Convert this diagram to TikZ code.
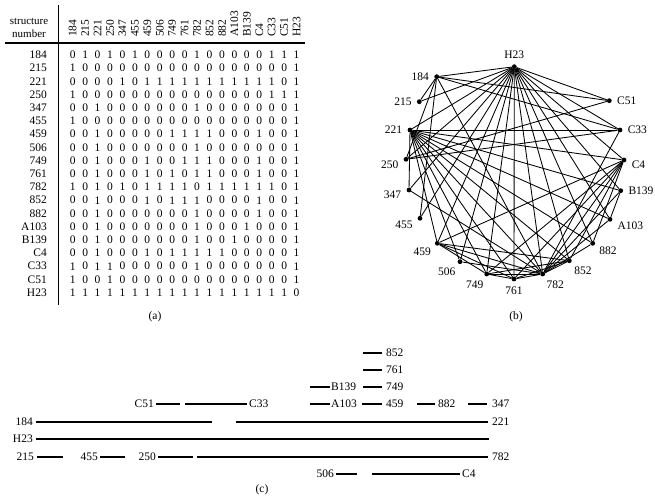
\documentclass[tikz,border=0pt]{standalone}
\usepackage{fontspec}
\setmainfont{Liberation Serif}
\begin{document}
\begin{tikzpicture}[x=1pt,y=-1pt,
  font=\fontsize{11.5}{13}\selectfont,
  colhead/.style={rotate=90,anchor=west,inner sep=0pt},
  rowlab/.style={anchor=east,inner sep=0pt},
  cell/.style={inner sep=0pt},
  rule/.style={line width=1.2pt},
  dot/.style={circle,fill=black,inner sep=0pt,minimum size=4.8pt},
  edge/.style={line width=0.85pt},
  seg/.style={line width=2pt},
  tag/.style={inner sep=0pt}]
\useasboundingbox (0,0) rectangle (655,498);

% ---------- (a) adjacency matrix ----------
\node[align=center,font=\fontsize{11}{13}\selectfont,inner sep=0pt] (hdr) at (29,28)
  {structure\\number};
\foreach \lab [count=\j from 0] in {184,215,221,250,347,455,459,506,749,761,782,852,882,A103,B139,C4,C33,C51,H23}
  \node[colhead] (h-\j) at ({72.7+12.44*\j},37) {\lab};
\foreach \lab/\vals [count=\i from 0] in {
  184/{0,1,0,1,0,1,0,0,0,0,1,0,0,0,0,0,1,1,1},
  215/{1,0,0,0,0,0,0,0,0,0,0,0,0,0,0,0,0,0,1},
  221/{0,0,0,0,1,0,1,1,1,1,1,1,1,1,1,1,1,0,1},
  250/{1,0,0,0,0,0,0,0,0,0,0,0,0,0,0,0,1,1,1},
  347/{0,0,1,0,0,0,0,0,0,0,1,0,0,0,0,0,0,0,1},
  455/{1,0,0,0,0,0,0,0,0,0,0,0,0,0,0,0,0,0,1},
  459/{0,0,1,0,0,0,0,0,1,1,1,1,0,0,0,1,0,0,1},
  506/{0,0,1,0,0,0,0,0,0,0,1,0,0,0,0,0,0,0,1},
  749/{0,0,1,0,0,0,1,0,0,1,1,1,0,0,0,1,0,0,1},
  761/{0,0,1,0,0,0,1,0,1,0,1,1,0,0,0,1,0,0,1},
  782/{1,0,1,0,1,0,1,1,1,1,0,1,1,1,1,1,1,0,1},
  852/{0,0,1,0,0,0,1,0,1,1,1,0,0,0,0,1,0,0,1},
  882/{0,0,1,0,0,0,0,0,0,0,1,0,0,0,0,1,0,0,1},
  A103/{0,0,1,0,0,0,0,0,0,0,1,0,0,0,1,0,0,0,1},
  B139/{0,0,1,0,0,0,0,0,0,0,1,0,0,1,0,0,0,0,1},
  C4/{0,0,1,0,0,0,1,0,1,1,1,1,1,0,0,0,0,0,1},
  C33/{1,0,1,1,0,0,0,0,0,0,1,0,0,0,0,0,0,0,1},
  C51/{1,0,0,1,0,0,0,0,0,0,0,0,0,0,0,0,0,0,1},
  H23/{1,1,1,1,1,1,1,1,1,1,1,1,1,1,1,1,1,1,0}} {
  \node[rowlab] (r-\i) at (47,{55+13.2*\i}) {\lab};
  \foreach \v [count=\j from 0] in \vals
    \node[cell] (c-\i-\j) at ({72.7+12.44*\j},{55+13.2*\i}) {\v};
}
\draw[rule] (5,43) -- (305,43);
\draw[rule] (58.5,5) -- (58.5,305);
\node[tag] (capa) at (155,317) {(a)};

% ---------- (b) graph ----------
\foreach \n/\px/\py/\ang in {
  H23/514.3/66.7/90, 184/436.7/76.7/180, 215/419.3/101.7/180,
  221/410/130/180, 250/406/159.3/190, 347/409/190/185,
  455/420/218.3/200, 459/437.3/243.3/215, 506/460/261.7/235,
  749/486.7/274/245, 761/514/279/270, 782/542.7/274/300,
  852/569.3/260.7/310, 882/592.7/243.3/330, A103/610/219.3/345,
  B139/620.7/190.7/0, C4/624/160/355, C33/620/130/0, C51/609.3/100.7/0}
  \node[dot,label={[inner sep=0pt,label distance=5pt]\ang:\n}] (g\n) at (\px,\py) {};
\foreach \a/\b in {
  184/215,184/250,184/455,184/782,184/C33,184/C51,184/H23,
  215/H23,
  221/347,221/459,221/506,221/749,221/761,221/782,221/852,221/882,
  221/A103,221/B139,221/C4,221/C33,221/H23,
  250/C33,250/C51,250/H23,
  347/782,347/H23,
  455/H23,
  459/749,459/761,459/782,459/852,459/C4,459/H23,
  506/782,506/H23,
  749/761,749/782,749/852,749/C4,749/H23,
  761/782,761/852,761/C4,761/H23,
  782/852,782/882,782/A103,782/B139,782/C4,782/C33,782/H23,
  852/C4,852/H23,
  882/C4,882/H23,
  A103/B139,A103/H23,
  B139/H23,C4/H23,C33/H23,C51/H23}
  \draw[edge] (g\a) -- (g\b);
\node[tag] (capb) at (516,317) {(b)};

% ---------- (c) interval representation ----------
% top stack
\draw[seg] (363,353) -- (382,353);
\node[tag,anchor=west] (i852) at (386,353) {852};
\draw[seg] (363,370) -- (382,370);
\node[tag,anchor=west] (i761) at (386,370) {761};
\draw[seg] (310,387) -- (330,387);
\node[tag,anchor=west] (iB139) at (331,387) {B139};
\draw[seg] (363,387) -- (382,387);
\node[tag,anchor=west] (i749) at (386,387) {749};
% row with C51, C33, A103, 459, 882, 347
\node[tag,anchor=east] (iC51) at (154,404) {C51};
\draw[seg] (156,404) -- (180,404);
\draw[seg] (185,404) -- (247,404);
\node[tag,anchor=west] (iC33) at (249,404) {C33};
\draw[seg] (310,404) -- (330,404);
\node[tag,anchor=west] (iA103) at (331,404) {A103};
\draw[seg] (362,404) -- (382,404);
\node[tag,anchor=west] (i459) at (386,404) {459};
\draw[seg] (417,404) -- (435,404);
\node[tag,anchor=west] (i882) at (438,404) {882};
\draw[seg] (468,404) -- (487,404);
\node[tag,anchor=west] (i347) at (492,404) {347};
% 184 / 221
\node[tag,anchor=east] (i184) at (33,422) {184};
\draw[seg] (36,422) -- (212,422);
\draw[seg] (236,422) -- (488,422);
\node[tag,anchor=west] (i221) at (492,422) {221};
% H23
\node[tag,anchor=east] (iH23) at (33,439) {H23};
\draw[seg] (36,439) -- (489,439);
% 215, 455, 250, 782
\node[tag,anchor=east] (i215) at (34,457) {215};
\draw[seg] (37,457) -- (63,457);
\node[tag,anchor=east] (i455) at (98,457) {455};
\draw[seg] (100,457) -- (125,457);
\node[tag,anchor=east] (i250) at (156,457) {250};
\draw[seg] (158,457) -- (193,457);
\draw[seg] (197,457) -- (488,457);
\node[tag,anchor=west] (i782) at (492,457) {782};
% 506, C4
\node[tag,anchor=east] (i506) at (334,474) {506};
\draw[seg] (336,474) -- (357,474);
\draw[seg] (372,474) -- (460,474);
\node[tag,anchor=west] (iC4) at (462,474) {C4};
\node[tag] (capc) at (262,490) {(c)};
\end{tikzpicture}
\end{document}
